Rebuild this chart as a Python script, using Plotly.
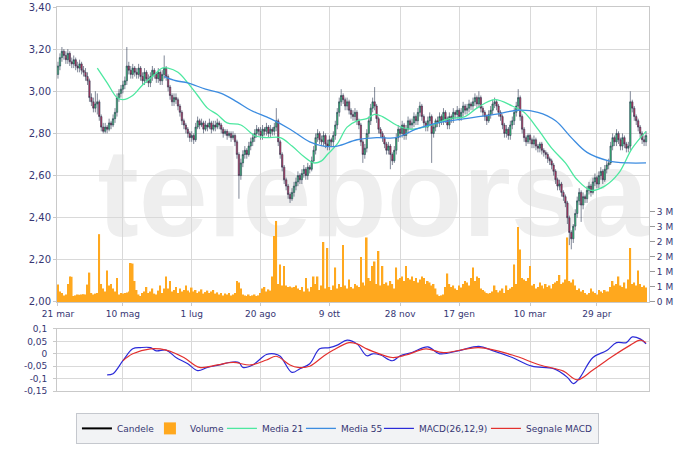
import plotly.graph_objects as go

# ---------------- data ----------------
tick_idx = [0, 33, 68, 103, 138, 174, 204, 240, 274]
tick_labels = ["21 mar", "10 mag", "1 lug", "20 ago", "9 ott", "28 nov", "17 gen", "10 mar", "29 apr"]

close = [
    3.12, 3.16, 3.19, 3.17, 3.15, 3.18, 3.14, 3.13, 3.15, 3.12,
    3.11, 3.13, 3.10, 3.09, 3.07, 3.05, 2.97, 2.95, 2.92, 2.94,
    2.95, 2.88, 2.83, 2.81, 2.83, 2.82, 2.85, 2.84, 2.87, 2.90,
    2.97, 2.99, 3.01, 3.03, 3.05, 3.12, 3.10, 3.08, 3.11, 3.09,
    3.08, 3.11, 3.07, 3.05, 3.09, 3.06, 3.04, 3.07, 3.10, 3.08,
    3.06, 3.09, 3.05, 3.08, 3.11, 3.07, 3.02, 2.98, 2.95, 2.97,
    2.96, 2.93, 2.90, 2.86, 2.84, 2.82, 2.80, 2.78, 2.79, 2.77,
    2.83, 2.86, 2.84, 2.85, 2.82, 2.84, 2.83, 2.85, 2.82, 2.84,
    2.83, 2.85, 2.84, 2.82, 2.80, 2.81, 2.79, 2.80, 2.78, 2.79,
    2.76, 2.70, 2.60, 2.66, 2.70, 2.72, 2.70, 2.74, 2.76, 2.78,
    2.80, 2.82, 2.81, 2.79, 2.82, 2.81, 2.83, 2.80, 2.82, 2.81,
    2.83, 2.86, 2.76, 2.70, 2.64, 2.58, 2.55, 2.51, 2.49, 2.52,
    2.55, 2.57, 2.60, 2.58, 2.61, 2.63, 2.60, 2.64, 2.63, 2.67,
    2.72, 2.78, 2.80, 2.77, 2.76, 2.79, 2.75, 2.74, 2.77, 2.76,
    2.79, 2.84, 2.90, 2.95, 2.98, 2.96, 2.93, 2.95, 2.91, 2.89,
    2.88, 2.90, 2.86, 2.84, 2.76, 2.70, 2.73, 2.80, 2.86, 2.92,
    2.95, 2.93, 2.87, 2.82, 2.80, 2.78, 2.75, 2.72, 2.74, 2.70,
    2.67, 2.72, 2.78, 2.82, 2.80, 2.84, 2.79, 2.82, 2.86, 2.84,
    2.85, 2.88, 2.86, 2.90, 2.93, 2.88, 2.85, 2.83, 2.86, 2.88,
    2.80, 2.83, 2.86, 2.85, 2.88, 2.86, 2.90, 2.87, 2.84, 2.88,
    2.87, 2.90, 2.89, 2.91, 2.88, 2.90, 2.93, 2.91, 2.92, 2.94,
    2.93, 2.95, 2.97, 2.94, 2.97, 2.92, 2.90, 2.88, 2.86, 2.89,
    2.91, 2.94, 2.95, 2.93, 2.90, 2.88, 2.84, 2.80, 2.82, 2.79,
    2.84, 2.86, 2.90, 2.93, 2.97, 2.88, 2.82, 2.78, 2.76, 2.79,
    2.77, 2.75, 2.77, 2.74, 2.73, 2.75, 2.72, 2.71, 2.70, 2.68,
    2.67, 2.65, 2.62, 2.58, 2.55, 2.56, 2.52, 2.50, 2.47, 2.40,
    2.33, 2.30, 2.36, 2.42, 2.48, 2.52, 2.46, 2.50, 2.49, 2.53,
    2.55, 2.52, 2.57, 2.59, 2.56, 2.60, 2.62, 2.58, 2.63, 2.65,
    2.66, 2.74, 2.78, 2.76, 2.80, 2.77, 2.74, 2.78, 2.75, 2.73,
    2.74, 2.95, 2.92, 2.88, 2.86, 2.83, 2.80, 2.77, 2.76, 2.79,
]
open_ = [
    3.08, 3.12, 3.16, 3.19, 3.17, 3.15, 3.18, 3.14, 3.13, 3.15,
    3.12, 3.11, 3.13, 3.10, 3.09, 3.07, 3.05, 2.97, 2.95, 2.92,
    2.94, 2.95, 2.88, 2.83, 2.81, 2.83, 2.82, 2.85, 2.84, 2.87,
    2.90, 2.97, 2.99, 3.01, 3.03, 3.05, 3.12, 3.10, 3.08, 3.11,
    3.09, 3.08, 3.11, 3.07, 3.05, 3.09, 3.06, 3.04, 3.07, 3.10,
    3.08, 3.06, 3.09, 3.05, 3.08, 3.11, 3.07, 3.02, 2.98, 2.95,
    2.97, 2.96, 2.93, 2.90, 2.86, 2.84, 2.82, 2.80, 2.78, 2.79,
    2.77, 2.83, 2.86, 2.84, 2.85, 2.82, 2.84, 2.83, 2.85, 2.82,
    2.84, 2.83, 2.85, 2.84, 2.82, 2.80, 2.81, 2.79, 2.80, 2.78,
    2.79, 2.76, 2.70, 2.60, 2.66, 2.70, 2.72, 2.70, 2.74, 2.76,
    2.78, 2.80, 2.82, 2.81, 2.79, 2.82, 2.81, 2.83, 2.80, 2.82,
    2.81, 2.83, 2.86, 2.76, 2.70, 2.64, 2.58, 2.55, 2.51, 2.49,
    2.52, 2.55, 2.57, 2.60, 2.58, 2.61, 2.63, 2.60, 2.64, 2.63,
    2.67, 2.72, 2.78, 2.80, 2.77, 2.76, 2.79, 2.75, 2.74, 2.77,
    2.76, 2.79, 2.84, 2.90, 2.95, 2.98, 2.96, 2.93, 2.95, 2.91,
    2.89, 2.88, 2.90, 2.86, 2.84, 2.76, 2.70, 2.73, 2.80, 2.86,
    2.92, 2.95, 2.93, 2.87, 2.82, 2.80, 2.78, 2.75, 2.72, 2.74,
    2.70, 2.67, 2.72, 2.78, 2.82, 2.80, 2.84, 2.79, 2.82, 2.86,
    2.84, 2.85, 2.88, 2.86, 2.90, 2.93, 2.88, 2.85, 2.83, 2.86,
    2.88, 2.80, 2.83, 2.86, 2.85, 2.88, 2.86, 2.90, 2.87, 2.84,
    2.88, 2.87, 2.90, 2.89, 2.91, 2.88, 2.90, 2.93, 2.91, 2.92,
    2.94, 2.93, 2.95, 2.97, 2.94, 2.97, 2.92, 2.90, 2.88, 2.86,
    2.89, 2.91, 2.94, 2.95, 2.93, 2.90, 2.88, 2.84, 2.80, 2.82,
    2.79, 2.84, 2.86, 2.90, 2.93, 2.97, 2.88, 2.82, 2.78, 2.76,
    2.79, 2.77, 2.75, 2.77, 2.74, 2.73, 2.75, 2.72, 2.71, 2.70,
    2.68, 2.67, 2.65, 2.62, 2.58, 2.55, 2.56, 2.52, 2.50, 2.47,
    2.40, 2.33, 2.30, 2.36, 2.42, 2.48, 2.52, 2.46, 2.50, 2.49,
    2.53, 2.55, 2.52, 2.57, 2.59, 2.56, 2.60, 2.62, 2.58, 2.63,
    2.65, 2.66, 2.74, 2.78, 2.76, 2.80, 2.77, 2.74, 2.78, 2.75,
    2.73, 2.74, 2.95, 2.92, 2.88, 2.86, 2.83, 2.80, 2.77, 2.76,
]
high = [
    3.14, 3.18, 3.21, 3.20, 3.19, 3.20, 3.19, 3.16, 3.17, 3.16,
    3.14, 3.15, 3.14, 3.12, 3.11, 3.09, 3.06, 2.99, 2.97, 3.00,
    2.99, 2.96, 2.89, 2.85, 2.85, 2.84, 2.87, 2.86, 2.89, 2.92,
    2.99, 3.01, 3.03, 3.05, 3.07, 3.21, 3.14, 3.12, 3.13, 3.12,
    3.11, 3.13, 3.12, 3.09, 3.11, 3.10, 3.08, 3.09, 3.12, 3.11,
    3.09, 3.11, 3.10, 3.10, 3.17, 3.12, 3.08, 3.03, 2.99, 2.99,
    2.99, 2.97, 2.94, 2.91, 2.87, 2.85, 2.83, 2.81, 2.81, 2.80,
    2.85, 2.88, 2.87, 2.87, 2.86, 2.86, 2.85, 2.87, 2.86, 2.86,
    2.86, 2.87, 2.86, 2.85, 2.83, 2.82, 2.82, 2.81, 2.81, 2.81,
    2.80, 2.77, 2.71, 2.68, 2.72, 2.74, 2.73, 2.76, 2.78, 2.80,
    2.82, 2.84, 2.83, 2.83, 2.84, 2.83, 2.85, 2.84, 2.84, 2.83,
    2.85, 2.92, 2.87, 2.77, 2.71, 2.65, 2.59, 2.56, 2.52, 2.54,
    2.57, 2.59, 2.62, 2.61, 2.63, 2.65, 2.64, 2.66, 2.65, 2.69,
    2.74, 2.80, 2.82, 2.81, 2.79, 2.81, 2.80, 2.77, 2.79, 2.78,
    2.81, 2.86, 2.92, 2.97, 3.01, 2.99, 2.97, 2.97, 2.96, 2.92,
    2.91, 2.92, 2.91, 2.87, 2.85, 2.77, 2.75, 2.82, 2.88, 2.94,
    2.97, 3.02, 2.94, 2.88, 2.83, 2.81, 2.79, 2.76, 2.76, 2.75,
    2.71, 2.74, 2.80, 2.84, 2.83, 2.86, 2.85, 2.84, 2.88, 2.87,
    2.87, 2.90, 2.89, 2.92, 2.95, 2.94, 2.89, 2.86, 2.88, 2.90,
    2.89, 2.84, 2.87, 2.88, 2.90, 2.89, 2.92, 2.91, 2.88, 2.90,
    2.89, 2.92, 2.91, 2.93, 2.92, 2.92, 2.95, 2.94, 2.94, 2.96,
    2.95, 2.97, 2.99, 2.98, 3.00, 2.98, 2.93, 2.91, 2.89, 2.91,
    2.93, 2.96, 2.97, 2.96, 2.94, 2.91, 2.89, 2.85, 2.84, 2.83,
    2.86, 2.88, 2.92, 2.95, 3.01, 2.98, 2.89, 2.83, 2.79, 2.80,
    2.80, 2.78, 2.79, 2.78, 2.75, 2.76, 2.76, 2.73, 2.72, 2.71,
    2.69, 2.68, 2.66, 2.63, 2.59, 2.58, 2.57, 2.53, 2.51, 2.48,
    2.41, 2.34, 2.37, 2.44, 2.50, 2.54, 2.53, 2.52, 2.51, 2.55,
    2.57, 2.56, 2.59, 2.61, 2.60, 2.62, 2.64, 2.63, 2.65, 2.67,
    2.68, 2.76, 2.80, 2.79, 2.82, 2.81, 2.78, 2.80, 2.79, 2.76,
    2.76, 3.00, 2.96, 2.93, 2.89, 2.87, 2.84, 2.81, 2.79, 2.81,
]
low = [
    3.06, 3.10, 3.14, 3.15, 3.13, 3.13, 3.12, 3.11, 3.11, 3.10,
    3.09, 3.09, 3.08, 3.07, 3.05, 3.03, 2.95, 2.93, 2.90, 2.90,
    2.89, 2.86, 2.81, 2.80, 2.80, 2.80, 2.81, 2.82, 2.83, 2.85,
    2.88, 2.95, 2.97, 2.99, 3.01, 3.03, 3.08, 3.06, 3.06, 3.07,
    3.06, 3.06, 3.05, 3.03, 3.03, 3.04, 3.02, 3.02, 3.05, 3.06,
    3.04, 3.04, 3.03, 3.03, 3.06, 3.05, 3.00, 2.96, 2.93, 2.93,
    2.94, 2.91, 2.88, 2.84, 2.82, 2.80, 2.78, 2.76, 2.76, 2.75,
    2.76, 2.82, 2.82, 2.83, 2.80, 2.81, 2.81, 2.82, 2.80, 2.81,
    2.81, 2.82, 2.82, 2.80, 2.78, 2.79, 2.77, 2.78, 2.76, 2.77,
    2.74, 2.68, 2.49, 2.58, 2.64, 2.68, 2.68, 2.69, 2.72, 2.74,
    2.76, 2.78, 2.79, 2.77, 2.77, 2.79, 2.79, 2.78, 2.78, 2.79,
    2.79, 2.81, 2.74, 2.68, 2.62, 2.56, 2.53, 2.49, 2.47, 2.48,
    2.50, 2.53, 2.55, 2.56, 2.56, 2.59, 2.58, 2.58, 2.61, 2.62,
    2.66, 2.70, 2.76, 2.75, 2.74, 2.74, 2.73, 2.72, 2.72, 2.74,
    2.74, 2.77, 2.82, 2.88, 2.93, 2.94, 2.91, 2.91, 2.89, 2.87,
    2.86, 2.86, 2.84, 2.82, 2.74, 2.66, 2.68, 2.71, 2.78, 2.84,
    2.90, 2.91, 2.85, 2.80, 2.78, 2.76, 2.73, 2.70, 2.70, 2.63,
    2.65, 2.66, 2.70, 2.76, 2.78, 2.78, 2.77, 2.77, 2.80, 2.82,
    2.82, 2.83, 2.84, 2.84, 2.88, 2.86, 2.83, 2.81, 2.81, 2.84,
    2.66, 2.78, 2.81, 2.83, 2.83, 2.84, 2.84, 2.85, 2.82, 2.82,
    2.85, 2.85, 2.87, 2.87, 2.86, 2.86, 2.88, 2.89, 2.89, 2.90,
    2.91, 2.91, 2.93, 2.92, 2.92, 2.90, 2.88, 2.86, 2.84, 2.85,
    2.87, 2.89, 2.92, 2.91, 2.88, 2.86, 2.82, 2.78, 2.78, 2.77,
    2.77, 2.82, 2.84, 2.88, 2.91, 2.86, 2.80, 2.76, 2.74, 2.75,
    2.75, 2.73, 2.73, 2.72, 2.71, 2.71, 2.70, 2.69, 2.68, 2.66,
    2.65, 2.63, 2.60, 2.56, 2.53, 2.53, 2.50, 2.48, 2.45, 2.37,
    2.27, 2.25, 2.28, 2.34, 2.40, 2.46, 2.38, 2.44, 2.47, 2.47,
    2.51, 2.50, 2.51, 2.55, 2.54, 2.54, 2.58, 2.56, 2.57, 2.61,
    2.63, 2.65, 2.72, 2.74, 2.74, 2.75, 2.72, 2.72, 2.73, 2.71,
    2.71, 2.72, 2.90, 2.86, 2.84, 2.81, 2.78, 2.75, 2.74, 2.74,
]
volume_m = [
    0.58, 0.35, 0.30, 0.22, 0.25, 0.60, 0.85, 0.84, 0.20, 0.22,
    0.25, 0.24, 0.25, 0.26, 0.25, 0.58, 0.98, 0.30, 0.25, 0.28,
    0.30, 2.26, 0.60, 0.45, 0.35, 1.05, 0.55, 0.60, 0.45, 0.35,
    0.80, 0.25, 0.30, 0.28, 0.30, 0.32, 0.35, 1.30, 1.28, 0.70,
    0.40, 0.25, 0.20, 0.30, 0.35, 0.50, 0.30, 0.35, 0.45, 0.28,
    0.25, 0.38, 0.55, 0.30, 0.45, 0.85, 0.45, 0.70, 0.35, 0.40,
    0.50, 0.30, 0.45, 0.35, 0.40, 0.55, 0.38, 0.32, 0.48, 0.35,
    0.40, 0.30, 0.35, 0.42, 0.28, 0.33, 0.38, 0.30, 0.35, 0.40,
    0.28, 0.32, 0.25, 0.30, 0.22, 0.28, 0.25, 0.30, 0.22, 0.25,
    0.30, 0.70, 0.65, 0.45, 0.25, 0.22, 0.20, 0.25, 0.20, 0.22,
    0.25, 0.20, 0.22, 0.30, 0.45, 0.50, 0.35, 0.42, 0.38, 0.85,
    2.20, 2.70, 0.60, 1.25, 0.55, 1.20, 0.55, 0.50, 0.52, 0.48,
    0.50, 0.55, 0.45, 0.40, 0.50, 0.35, 0.80, 0.45, 0.35, 0.50,
    0.85, 0.60, 0.85, 0.40, 0.55, 2.00, 0.45, 1.80, 0.50, 0.40,
    0.55, 1.15, 0.45, 0.60, 0.50, 1.90, 0.55, 0.45, 0.75, 0.50,
    0.45, 0.60, 0.55, 0.50, 1.50, 0.65, 0.55, 2.15, 0.80, 0.70,
    1.20, 1.35, 0.60, 1.70, 0.55, 1.20, 0.60, 0.65, 0.55, 0.70,
    0.60, 0.45, 1.15, 0.75, 0.80, 0.85, 0.70, 1.20, 0.80, 0.75,
    0.85, 0.70, 0.80, 0.65, 0.75, 0.85, 0.80, 0.60, 0.70, 0.65,
    0.55, 0.60, 0.45, 0.25, 0.20, 0.22, 0.25, 0.50, 0.95, 0.60,
    0.50, 0.55, 0.45, 0.40, 0.55, 0.48, 0.60, 0.70, 0.65, 0.55,
    0.80, 1.15, 0.70, 0.85, 0.80, 0.45, 0.40, 0.35, 0.30, 0.28,
    0.30, 0.35, 0.55, 0.40, 0.32, 0.38, 0.45, 0.30, 0.55, 0.40,
    0.45, 0.50, 1.25, 0.60, 2.50, 1.75, 0.80, 0.75, 0.70, 0.80,
    1.20, 0.55, 0.60, 0.45, 0.50, 0.65, 0.55, 0.45, 0.60, 0.50,
    0.55, 0.45, 0.60, 0.65, 0.70, 0.90, 0.60, 0.65, 0.75, 2.15,
    0.70, 0.65, 0.75, 0.55, 0.40, 0.45, 0.35, 0.40, 0.30, 0.25,
    0.30, 0.45, 0.35, 0.30, 0.25, 0.40, 0.35, 0.30, 0.40, 0.35,
    0.35, 0.50, 0.70, 0.55, 0.60, 0.85, 0.55, 0.50, 0.65, 0.45,
    0.75, 1.80, 0.60, 0.65, 0.55, 1.05, 0.60, 0.50, 0.55, 0.48,
]

ma21_idx = [20, 25, 30, 33, 38, 43, 48, 53, 56, 61, 66, 71, 76, 81, 86, 93, 100, 106,
            113, 119, 125, 130, 134, 137, 142, 147, 152, 157, 161, 165, 172, 179, 186,
            193, 199, 207, 213, 222, 231, 237, 244, 251, 258, 264, 271, 278, 285, 292, 299]
ma21 = [3.11, 3.04, 2.97, 2.96, 2.98, 3.03, 3.07, 3.11, 3.11, 3.09, 3.04, 2.98, 2.92,
        2.89, 2.85, 2.84, 2.79, 2.78, 2.78, 2.74, 2.69, 2.66, 2.67, 2.70, 2.75, 2.83,
        2.86, 2.87, 2.89, 2.88, 2.84, 2.82, 2.83, 2.85, 2.87, 2.88, 2.92, 2.96, 2.93,
        2.90, 2.82, 2.73, 2.66, 2.58, 2.53, 2.55, 2.61, 2.73, 2.81]

ma55_idx = [54, 60, 66, 75, 83, 91, 98, 108, 118, 128, 135, 142, 152, 162, 172, 182,
            193, 199, 207, 222, 234, 244, 253, 261, 269, 280, 290, 299]
ma55 = [3.07, 3.05, 3.04, 3.01, 2.99, 2.95, 2.91, 2.87, 2.82, 2.76, 2.74, 2.74, 2.77,
        2.78, 2.78, 2.82, 2.85, 2.86, 2.87, 2.89, 2.91, 2.90, 2.86, 2.78, 2.71, 2.67,
        2.66, 2.66]

macd_idx = [25, 28, 33, 38, 42, 47, 50, 55, 60, 66, 71, 76, 82, 87, 92, 94, 99, 106,
            110, 113, 119, 123, 128, 133, 138, 142, 147, 152, 157, 160, 164, 170, 174,
            180, 188, 194, 204, 214, 221, 231, 241, 252, 259, 262, 265, 272, 279, 284,
            289, 292, 296, 299]
macd = [-0.085, -0.080, -0.028, 0.020, 0.025, 0.025, 0.012, 0.015, -0.015, -0.040,
        -0.068, -0.055, -0.045, -0.035, -0.035, -0.055, -0.045, -0.003, 0.000, -0.010,
        -0.075, -0.060, -0.040, 0.020, 0.025, 0.035, 0.055, 0.040, -0.008, 0.000,
        -0.005, -0.028, -0.008, 0.005, 0.028, 0.000, 0.013, 0.030, 0.013, -0.015,
        -0.050, -0.060, -0.095, -0.120, -0.100, -0.015, 0.013, 0.045, 0.045, 0.068,
        0.060, 0.040]

signal_idx = [33, 38, 47, 55, 64, 72, 81, 89, 98, 106, 111, 118, 122, 128, 135, 140,
              148, 152, 157, 160, 170, 177, 187, 196, 214, 231, 245, 257, 264, 272, 282,
              291, 296, 299]
signal = [-0.028, 0.000, 0.020, 0.015, -0.015, -0.055, -0.045, -0.035, -0.045, -0.025,
          -0.010, -0.045, -0.055, -0.050, -0.010, 0.015, 0.045, 0.040, 0.020, 0.010,
          -0.015, -0.005, 0.020, 0.005, 0.025, -0.005, -0.045, -0.070, -0.105, -0.065,
          -0.010, 0.035, 0.055, 0.045]

price_ticks = [2.0, 2.2, 2.4, 2.6, 2.8, 3.0, 3.2, 3.4]
vol_ticks = [0, 0.5, 1.0, 1.5, 2.0, 2.5, 3.0]
vol_labels = ["0 M", "1 M", "1 M", "2 M", "2 M", "3 M", "3 M"]
macd_ticks = [-0.15, -0.1, -0.05, 0, 0.05, 0.1]
macd_labels = ["-0,15", "-0,1", "-0,05", "0", "0,05", "0,1"]

days = list(range(len(close)))

# ---------------- styling ----------------
GRID = "#D9D9D9"
FRAME = "#C9C9C9"
LBL = "#363673"
FONT = "DejaVu Sans"

fig = go.Figure()

# legend-only entry for candles
fig.add_trace(go.Scatter(x=[None], y=[None], mode="lines", name="Candele",
                         line=dict(color="#000000", width=2), xaxis="x", yaxis="y3",
                         legendwidth=28))

fig.add_trace(go.Bar(x=days, y=volume_m, name="Volume", xaxis="x", yaxis="y",
                     marker=dict(color="#FFA81E", line=dict(width=0)),
                     legendwidth=27))

fig.add_trace(go.Candlestick(
    x=days, open=open_, high=high, low=low, close=close, xaxis="x", yaxis="y3",
    showlegend=False, whiskerwidth=0,
    increasing=dict(line=dict(color="#2A3550", width=0.6), fillcolor="#35D07A"),
    decreasing=dict(line=dict(color="#2A3550", width=0.6), fillcolor="#C8305A"),
))

fig.add_trace(go.Scatter(x=ma21_idx, y=ma21, name="Media 21", mode="lines",
                         line=dict(color="#4DE8A0", width=1.3, shape="spline"),
                         xaxis="x", yaxis="y3", legendwidth=34))
fig.add_trace(go.Scatter(x=ma55_idx, y=ma55, name="Media 55", mode="lines",
                         line=dict(color="#3C8CE0", width=1.3, shape="spline"),
                         xaxis="x", yaxis="y3", legendwidth=33))
fig.add_trace(go.Scatter(x=macd_idx, y=macd, name="MACD(26,12,9)", mode="lines",
                         line=dict(color="#2B2BD8", width=1.2, shape="spline"),
                         xaxis="x2", yaxis="y2", legendwidth=62))
fig.add_trace(go.Scatter(x=signal_idx, y=signal, name="Segnale MACD", mode="lines",
                         line=dict(color="#E3302E", width=1.2, shape="spline"),
                         xaxis="x2", yaxis="y2"))

tickfont = dict(family=FONT, size=9, color=LBL)

fig.update_layout(
    width=700, height=451,
    margin=dict(l=57, r=51, t=7, b=60, autoexpand=False),
    paper_bgcolor="white", plot_bgcolor="white",
    separators=",.",
    bargap=0.2,
    boxgap=0.0,
    showlegend=True,
    xaxis=dict(domain=[0, 1], anchor="y", range=[-0.5, 300.5], automargin=False,
               tickmode="array", tickvals=tick_idx, ticktext=tick_labels,
               showgrid=True, gridcolor=GRID, zeroline=False,
               ticks="outside", ticklen=3, tickcolor=FRAME,
               showline=True, mirror=True, linecolor=FRAME,
               tickfont=tickfont, rangeslider=dict(visible=False)),
    yaxis=dict(domain=[0.2318, 1], anchor="x", side="right", range=[0, 9.83],
               automargin=False,
               tickmode="array", tickvals=vol_ticks, ticktext=vol_labels,
               showgrid=False, zeroline=False, showline=False,
               ticks="outside", ticklen=5, tickcolor="#999999", tickfont=tickfont),
    yaxis3=dict(overlaying="y", side="left", anchor="x", range=[2.0, 3.4],
                automargin=False,
                tickmode="array", tickvals=price_ticks, tickformat=".2f",
                showgrid=True, gridcolor=GRID, zeroline=False,
                ticks="outside", ticklen=3, tickcolor=FRAME,
                showline=True, mirror=True, linecolor=FRAME,
                tickfont=dict(family=FONT, size=10, color=LBL)),
    xaxis2=dict(domain=[0, 1], anchor="y2", matches="x", range=[-0.5, 300.5],
                automargin=False,
                tickmode="array", tickvals=tick_idx, showticklabels=False,
                showgrid=True, gridcolor=GRID, zeroline=False, ticks="",
                showline=True, mirror=True, linecolor=FRAME,
                rangeslider=dict(visible=False)),
    yaxis2=dict(domain=[0, 0.1615], anchor="x2", range=[-0.15, 0.1],
                automargin=False,
                tickmode="array", tickvals=macd_ticks, ticktext=macd_labels,
                showgrid=True, gridcolor=GRID, zeroline=False,
                ticks="outside", ticklen=3, tickcolor=FRAME,
                showline=True, mirror=True, linecolor=FRAME,
                ticklabelstandoff=4, tickfont=tickfont),
    legend=dict(orientation="h", x=0.032, xanchor="left", y=-0.057, yanchor="top",
                bgcolor="#F2F3F5", bordercolor="#C5C8CE", borderwidth=1,
                font=dict(family=FONT, size=9, color=LBL), itemwidth=30,
                traceorder="normal"),
    shapes=[dict(type="rect", xref="x domain", yref="y domain",
                 x0=0.07, x1=0.998, y0=0.10, y1=0.72, layer="below",
                 line=dict(width=0), fillcolor="rgba(0,0,0,0)",
                 label=dict(text="teleborsa", textposition="middle center",
                            font=dict(family="Liberation Sans", size=124,
                                      color="#EEEEEE", weight="bold")))],
)

fig.write_html("out.html",
               config={"displayModeBar": False},
               post_script="document.body.style.margin='0px';"
                           "document.body.style.overflow='hidden';")
